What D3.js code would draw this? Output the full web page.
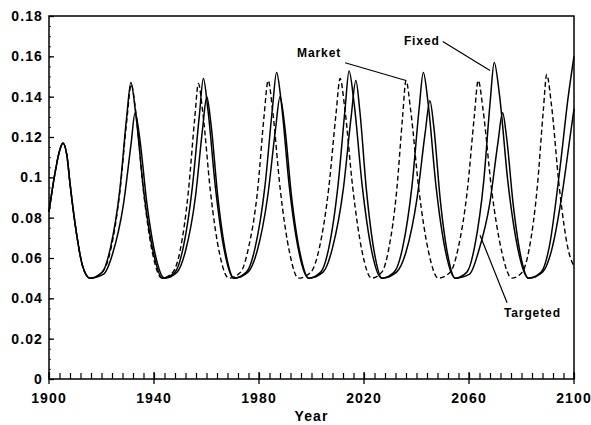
<!DOCTYPE html>
<html>
<head>
<meta charset="utf-8">
<script src="https://cdn.jsdelivr.net/npm/d3@7"></script>
<style>
	body { margin: 0; background: #fff; }
	svg { display: block; font-family: "Liberation Sans", Arial, sans-serif; }
	.tick-label { font-size: 14px; font-weight: bold; letter-spacing: 1.1px; }
	.note { font-size: 12px; font-weight: bold; letter-spacing: 0.9px; }
</style>
</head>
<body>
<svg id="chart" width="591" height="425"></svg>
<script>

// values, [year, value]
const fixed = [
	[1900, 0.083], [1902, 0.100], [1904, 0.113], [1905.3, 0.117], [1906.8, 0.111], [1908, 0.097],
	[1910.5, 0.072], [1912.8, 0.056], [1915.6, 0.050],
	[1920.3, 0.053], [1923.4, 0.065], [1927.0, 0.094], [1929.6, 0.130], [1931.2, 0.147],
	[1933.0, 0.132], [1936.0, 0.094], [1939.7, 0.063], [1943.3, 0.050],
	[1948.0, 0.053], [1951.1, 0.065], [1954.6, 0.095], [1957.3, 0.131], [1958.8, 0.149],
	[1960.5, 0.134], [1963.4, 0.095], [1966.9, 0.063], [1970.3, 0.050],
	[1975.2, 0.053], [1978.5, 0.065], [1982.3, 0.096], [1985.1, 0.134], [1986.7, 0.152],
	[1988.5, 0.137], [1991.5, 0.096], [1995.2, 0.063], [1998.8, 0.050],
	[2003.5, 0.053], [2006.6, 0.065], [2010.1, 0.096], [2012.8, 0.134], [2014.3, 0.1527],
	[2016.2, 0.137], [2019.3, 0.096], [2023.0, 0.063], [2026.7, 0.050],
	[2031.5, 0.053], [2034.7, 0.065], [2038.3, 0.096], [2041.0, 0.134], [2042.6, 0.152],
	[2044.4, 0.137], [2047.4, 0.096], [2051.1, 0.063], [2054.7, 0.050],
	[2059.2, 0.053], [2062.2, 0.066], [2065.6, 0.098], [2068.1, 0.138], [2069.6, 0.157],
	[2071.6, 0.141], [2074.8, 0.098], [2078.7, 0.064], [2082.6, 0.050],
	[2087.5, 0.053], [2090.5, 0.065], [2094.7, 0.105], [2097.8, 0.140], [2100, 0.160]
];

const market = [
	[1900, 0.083], [1902, 0.100], [1904, 0.113], [1905.3, 0.117], [1906.8, 0.111], [1908, 0.097],
	[1910.5, 0.072], [1912.8, 0.056], [1915.6, 0.050],
	[1920.3, 0.053], [1923.5, 0.064], [1927.0, 0.093], [1929.7, 0.129], [1931.3, 0.146],
	[1933.1, 0.132], [1936.0, 0.093], [1939.5, 0.062], [1943.0, 0.050],
	[1947.2, 0.053], [1950.0, 0.064], [1953.1, 0.093], [1955.5, 0.129], [1956.9, 0.1465],
	[1958.6, 0.132], [1961.5, 0.093], [1965.0, 0.062], [1968.5, 0.050],
	[1973.0, 0.053], [1976.0, 0.065], [1979.5, 0.094], [1981.9, 0.130], [1983.5, 0.148],
	[1985.2, 0.133], [1988.1, 0.094], [1991.6, 0.063], [1995.0, 0.050],
	[1999.8, 0.053], [2003.0, 0.065], [2006.6, 0.095], [2009.3, 0.131], [2010.9, 0.149],
	[2012.7, 0.134], [2015.7, 0.095], [2019.3, 0.063], [2022.9, 0.050],
	[2026.8, 0.053], [2029.5, 0.065], [2032.5, 0.094], [2034.7, 0.130], [2036.0, 0.148],
	[2037.8, 0.133], [2040.9, 0.094], [2044.6, 0.063], [2048.3, 0.050],
	[2052.9, 0.053], [2055.9, 0.065], [2059.4, 0.094], [2062.0, 0.130], [2063.5, 0.148],
	[2065.4, 0.133], [2068.6, 0.094], [2072.5, 0.063], [2076.3, 0.050],
	[2080.3, 0.053], [2083.0, 0.065], [2086.0, 0.095], [2088.3, 0.133], [2089.6, 0.151],
	[2091.4, 0.136], [2094.4, 0.095], [2098.0, 0.063], [2100, 0.056]
];

const targeted = [
	[1900, 0.083], [1902, 0.100], [1904, 0.113], [1905.3, 0.117], [1906.8, 0.111], [1908, 0.097],
	[1910.5, 0.072], [1912.8, 0.056], [1915.6, 0.050],
	[1920.8, 0.052], [1924.2, 0.062], [1928.4, 0.087], [1931.3, 0.117], [1932.8, 0.132],
	[1934.5, 0.120], [1937.3, 0.087], [1940.6, 0.061], [1944.0, 0.050],
	[1948.8, 0.053], [1952.0, 0.0635], [1955.8, 0.0905], [1958.5, 0.124], [1960.1, 0.140],
	[1961.7, 0.1265], [1964.3, 0.0905], [1967.4, 0.062], [1970.5, 0.050],
	[1975.8, 0.053], [1979.3, 0.0635], [1983.3, 0.0905], [1986.3, 0.124], [1988.0, 0.140],
	[1989.7, 0.1265], [1992.4, 0.0905], [1995.7, 0.062], [1999.0, 0.050],
	[2004.4, 0.053], [2008.0, 0.065], [2012.1, 0.094], [2015.1, 0.130], [2016.9, 0.148],
	[2018.4, 0.133], [2020.9, 0.094], [2023.9, 0.063], [2026.9, 0.050],
	[2032.4, 0.053], [2036.0, 0.063], [2040.2, 0.0896], [2043.3, 0.122], [2045.1, 0.138],
	[2046.6, 0.125], [2049.0, 0.0896], [2051.9, 0.0615], [2054.8, 0.050],
	[2060.2, 0.052], [2063.8, 0.064], [2067.9, 0.087], [2071.0, 0.117], [2072.8, 0.132],
	[2074.3, 0.120], [2076.8, 0.087], [2079.7, 0.061], [2082.7, 0.050],
	[2088.0, 0.053], [2091.5, 0.064], [2095.5, 0.092], [2098.5, 0.120], [2100, 0.134]
];

const x_ticks = [1900, 1940, 1980, 2020, 2060, 2100];
const y_ticks = [0, 0.02, 0.04, 0.06, 0.08, 0.1, 0.12, 0.14, 0.16, 0.18];

// text, anchor of text, leader line from / to (year, value)
const notes = [
	{ text: "Market",   at: [1994.5, 0.1597], from: [2012.8, 0.1568], to: [2036.0, 0.148] },
	{ text: "Fixed",    at: [2035.2, 0.1656], from: [2050.0, 0.1673], to: [2068.0, 0.1530] },
	{ text: "Targeted", at: [2073.3, 0.0307], from: [2074.5, 0.0378], to: [2064.2, 0.0713] }
];

const svg = d3.select("#chart");
const margin = { left: 49, top: 16, right: 17, bottom: 46 };
const W = 591, H = 425;

const x = d3.scaleLinear().domain([1900, 2100]).range([margin.left, W - margin.right]);
const y = d3.scaleLinear().domain([0, 0.18]).range([H - margin.bottom, margin.top]);

// frame
svg.append("rect")
	.attr("x", x(1900)).attr("y", y(0.18))
	.attr("width", x(2100) - x(1900)).attr("height", y(0) - y(0.18))
	.attr("fill", "none").attr("stroke", "#000").attr("stroke-width", 1.5);

// y axis, ticks pointing in
const y_axis = d3.axisRight(y).tickValues(y_ticks).tickSize(5).tickFormat("");
svg.append("g").attr("transform", "translate(" + x(1900) + ",0)").call(y_axis)
	.call(g => g.select(".domain").remove())
	.selectAll("line").attr("stroke-width", 1.3);

const y_minor = d3.axisRight(y).tickValues(d3.range(0, 0.1801, 0.005)).tickSize(2).tickFormat("");
svg.append("g").attr("transform", "translate(" + x(1900) + ",0)").call(y_minor)
	.call(g => g.select(".domain").remove())
	.selectAll("line").attr("stroke-width", 0.8);

svg.append("g").selectAll("text")
	.data(y_ticks)
	.join("text")
	.attr("class", "tick-label")
	.attr("x", x(1900) - 6)
	.attr("y", d => y(d) + 5)
	.attr("text-anchor", "end")
	.text(d => d === 0 ? "0" : String(+d.toFixed(2)));

// x axis: minor ticks every 4 years pointing up, major ticks across the line
const x_minor = d3.axisTop(x).tickValues(d3.range(1900, 2101, 4)).tickSize(6).tickFormat("");
svg.append("g").attr("transform", "translate(0," + y(0) + ")").call(x_minor)
	.call(g => g.select(".domain").remove())
	.selectAll("line").attr("stroke-width", 1.2);

svg.append("g").selectAll("line")
	.data(x_ticks)
	.join("line")
	.attr("x1", d => x(d)).attr("x2", d => x(d))
	.attr("y1", y(0) - 7).attr("y2", y(0) + 5)
	.attr("stroke", "#000").attr("stroke-width", 1.3);

svg.append("g").selectAll("text")
	.data(x_ticks)
	.join("text")
	.attr("class", "tick-label")
	.attr("x", d => x(d))
	.attr("y", y(0) + 24)
	.attr("text-anchor", "middle")
	.text(d => d);

svg.append("text")
	.attr("class", "tick-label")
	.attr("x", (x(1900) + x(2100)) / 2)
	.attr("y", H - 4)
	.attr("text-anchor", "middle")
	.text("Year");

// series
const line = d3.line()
	.x(d => x(d[0]))
	.y(d => y(d[1]))
	.curve(d3.curveMonotoneX);

const series = [
	{ data: market, dash: "5,3", width: 1.4 },
	{ data: targeted, dash: null, width: 1.5 },
	{ data: fixed, dash: null, width: 1.5 }
];

svg.append("g").selectAll("path")
	.data(series)
	.join("path")
	.attr("d", d => line(d.data))
	.attr("fill", "none")
	.attr("stroke", "#000")
	.attr("stroke-width", d => d.width)
	.attr("stroke-dasharray", d => d.dash);

// annotations
const note_g = svg.append("g");
note_g.selectAll("line")
	.data(notes)
	.join("line")
	.attr("x1", d => x(d.from[0])).attr("y1", d => y(d.from[1]))
	.attr("x2", d => x(d.to[0])).attr("y2", d => y(d.to[1]))
	.attr("stroke", "#000").attr("stroke-width", 1.2);

note_g.selectAll("text")
	.data(notes)
	.join("text")
	.attr("class", "note")
	.attr("x", d => x(d.at[0]))
	.attr("y", d => y(d.at[1]))
	.text(d => d.text);

</script>
</body>
</html>
